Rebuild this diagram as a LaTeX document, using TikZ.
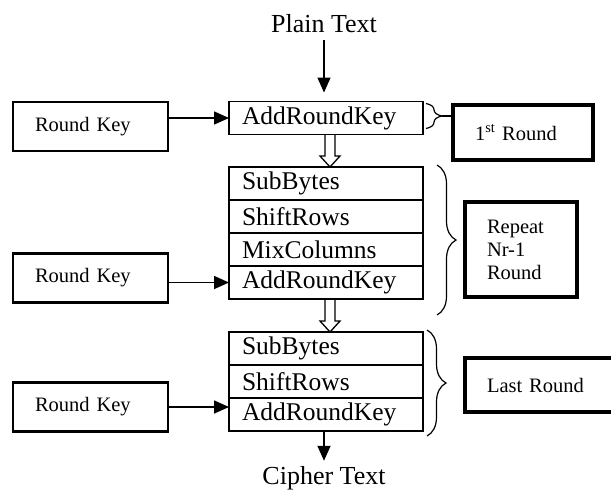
\documentclass[tikz,border=0pt]{standalone}
\usepackage{fontspec}
\setmainfont{Liberation Serif}
\usetikzlibrary{positioning,arrows.meta,decorations.pathreplacing}

\begin{document}
\begin{tikzpicture}[x=1pt,y=-1pt,
    >={Triangle[width=13pt,length=15pt]},
    row/.style={draw,line width=1.5pt,outer sep=0pt,minimum width=194pt,minimum height=33pt,
      text width=168pt,inner xsep=13pt,inner ysep=0pt,align=left,
      font=\fontsize{25.5}{28}\selectfont},
    keybox/.style={draw,line width=2.8pt,outer sep=0pt,minimum height=49pt,
      text width=111pt,inner xsep=22pt,align=left,font=\fontsize{20.5}{23}\selectfont},
    note/.style={draw,line width=3.2pt,outer sep=0pt,inner xsep=22pt,align=left,
      font=\fontsize{20.5}{23}\selectfont},
    io/.style={inner sep=2pt,font=\fontsize{26}{30}\selectfont},
    hollow/.style={line width=1.3pt,line join=miter},
    brc/.style={decorate,decoration={brace,amplitude=19pt},line width=1.2pt}]
      \useasboundingbox (0,0) rectangle (611,491);

      \node[io,anchor=base] (plain) at (324,32) {Plain Text};
      \node[row] (a1) at (326,118) {AddRoundKey};
      \node[row] (sb1) at (326,183.5) {SubBytes};
      \node[row,below=0pt of sb1] (sr1) {ShiftRows};
      \node[row,below=0pt of sr1] (mc1) {MixColumns};
      \node[row,below=0pt of mc1] (ark1) {AddRoundKey};
      \node[row] (sb2) at (326,348.5) {SubBytes};
      \node[row,below=0pt of sb2] (sr2) {ShiftRows};
      \node[row,below=0pt of sr2] (ark2) {AddRoundKey};
      \node[io,anchor=base] (cipher) at (324,484) {Cipher Text};

      \node[keybox] (k1) at (90.5,126.5) {Round Key};
      \node[keybox] (k2) at (90.5,278) {Round Key};
      \node[keybox] (k3) at (90.5,407) {Round Key};

      \node[note,minimum height=55pt,text width=96pt] (r1) at (523,132.5) {1\textsuperscript{st} Round};
      \node[note,minimum height=95pt,text width=68pt] (rep) at (521,249.5) {Repeat\\Nr-1\\Round};
      \node[note,minimum height=54pt,text width=107pt] (last) at (540.5,385) {Last Round};

      \draw[->,line width=1.6pt,shorten <=6pt,shorten >=9pt] (plain) -- (plain |- a1.north);
      \draw[->,line width=1.6pt,shorten >=3pt] (ark2.south -| cipher) -- (cipher);
      \draw[->,line width=1.6pt] (k1.east |- a1) -- (a1);
      \draw[->,line width=1.6pt] (k2.east |- ark1) -- (ark1);
      \draw[->,line width=1.6pt] (k3) -- (k3 -| ark2.west);

      % hollow arrows between the rounds
      \foreach \u/\v in {a1/sb1,ark1/sb2}
        \draw[hollow] ([xshift=-1pt]\u.south) -- ([xshift=-1pt,yshift=11pt]\v.north)
          -- ([xshift=-6pt,yshift=11pt]\v.north) -- ([xshift=4pt]\v.north)
          -- ([xshift=14pt,yshift=11pt]\v.north) -- ([xshift=9pt,yshift=11pt]\v.north)
          -- ([xshift=9pt]\u.south);

      % braces
      \draw[brc,decoration={amplitude=16pt}] ([xshift=3pt,yshift=-2pt]a1.north east) -- ([xshift=3pt,yshift=6pt]a1.south east);
      \coordinate (t1) at ([xshift=19pt,yshift=2pt]a1.east);
      \draw[line width=1.2pt] (t1) -- (t1 -| r1.west);
      \draw[brc] ([xshift=14pt,yshift=2pt]sb1.north east) -- ([xshift=14pt,yshift=-16pt]ark1.south east);
      \draw[brc] ([xshift=4pt,yshift=2pt]sb2.north east) -- ([xshift=4pt,yshift=-5pt]ark2.south east);
    \end{tikzpicture}
\end{document}
